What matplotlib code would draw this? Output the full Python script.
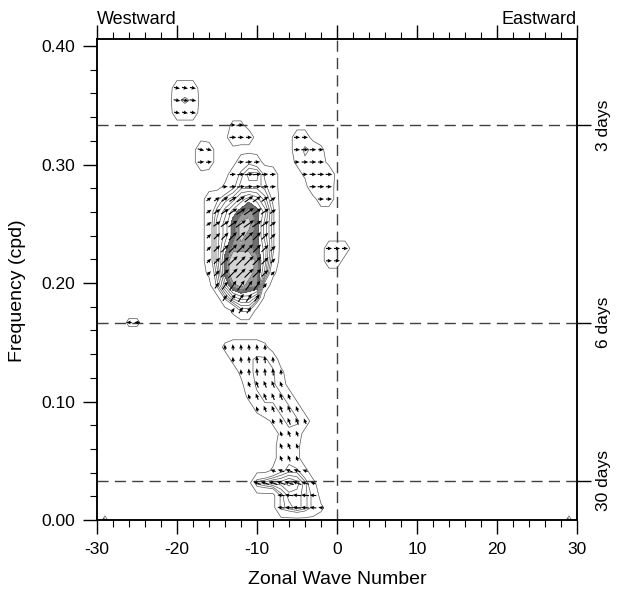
import numpy as np
import matplotlib
matplotlib.use("Agg")
import matplotlib.pyplot as plt

plt.rcParams['font.family'] = ['Liberation Sans', 'DejaVu Sans']
plt.rcParams['axes.unicode_minus'] = False

# grid of the cross spectrum: integer wavenumbers, frequency step 1/96 cpd
wavenumbers = np.arange(-30, 31)
freq_step = 1.0 / 96
n_freq = 39

# coherence, one hex digit per grid point
# value = (digit + 0.5) / 20, '.' = nothing
# (frequency index, first wavenumber, digits)
coh_rows = [
    (35, -20, "222"),
    (34, -20, "343"),
    (33, -20, "222"),
    (32, -13, "11"),
    (31, -13, "322"),
    (31, -5, "22"),
    (30, -17, "32"),
    (30, -5, "2431"),
    (29, -17, "32"),
    (29, -17, ".....232..."),
    (29, -5, "1332"),
    (28, -17, "....246632."),
    (28, -4, "1333"),
    (27, -17, "...1355542."),
    (27, -3, "332"),
    (26, -17, ".235689863."),
    (26, -2, "22"),
    (25, -17, ".2579ABA84."),
    (24, -17, ".268ACCA74."),
    (23, -17, ".268ACBA74."),
    (22, -17, ".269BBBA84."),
    (22, -1, "222"),
    (21, -17, ".26ADDDB83."),
    (21, -1, "22"),
    (20, -17, ".15ADDCB71."),
    (19, -17, "..48BCBB2.."),
    (18, -17, "...47886..."),
    (17, -17, "....144...."),
    (16, -26, "11"),
    (14, -14, "122221"),
    (13, -13, "123442"),
    (12, -12, "134441"),
    (11, -12, "024442"),
    (10, -11, "134442"),
    (9, -10, "133442"),
    (8, -8, "13442"),
    (7, -7, "132"),
    (6, -7, "231"),
    (5, -7, "231"),
    (4, -8, "13441"),
    (3, -10, "56778751"),
    (2, -7, "46653"),
    (1, -7, "456531"),
    (0, -29, "1"),
    (0, 29, "1"),
]

# phase angle (degrees) of the arrows, by boxes: x0, x1, k0, k1, angle
phase_boxes = [
    (-21, -17, 33, 36, -10),
    (-14, -10, 30, 32, 0),
    (-18, -15, 29, 30, -15),
    (-17, -7, 27, 29, 5),
    (-17, -7, 24, 26, 35),
    (-17, -7, 20, 23, 45),
    (-17, -7, 17, 19, 55),
    (-6, 0, 25, 32, 0),
    (-2, 2, 20, 23, 0),
    (-27, -24, 15, 17, 180),
    (-15, -2, 12, 15, 95),
    (-15, -2, 5, 11, 112),
    (-11, -2, 3, 4, 160),
    (-11, -2, 0, 2, 175),
]

period_days = [3, 6, 30]
period_labels = ["3 days", "6 days", "30 days"]

line_levels = [0.05, 0.2, 0.25, 0.3, 0.35, 0.4, 0.45]
fill_levels = [0.5, 0.55, 0.6, 1.0]
fill_colors = ['#6e6e6e', '#999999', '#d4d4d4']

freqs = np.arange(n_freq) * freq_step
coh = np.zeros((n_freq, len(wavenumbers)))
for k, x0, digits in coh_rows:
    for i, c in enumerate(digits):
        if c != '.':
            coh[k, x0 + 30 + i] = (int(c, 16) + 0.5) / 20.0

phase = np.zeros_like(coh)
for x0, x1, k0, k1, ang in phase_boxes:
    phase[k0:k1 + 1, x0 + 30:x1 + 31] = ang

fig = plt.figure(figsize=(6.17, 5.92), dpi=100)
ax = fig.add_axes([97 / 617, 72 / 592, 480 / 617, 481.4 / 592])

ax.contourf(wavenumbers, freqs, coh, levels=fill_levels, colors=fill_colors)
ax.contour(wavenumbers, freqs, coh, levels=line_levels + fill_levels[:-1],
           colors='#575757', linewidths=0.5)

# phase arrows where there is coherence
kk, ii = np.nonzero(coh >= 0.05)
mag = 0.35 + coh[kk, ii]
ang = np.deg2rad(phase[kk, ii])
ax.quiver(wavenumbers[ii], freqs[kk], mag * np.cos(ang), mag * np.sin(ang),
          pivot='middle', units='dots', width=1.1, scale_units='dots',
          scale=0.078, headwidth=3.5, headlength=4, headaxislength=3.6,
          color='black', zorder=4)

for p in period_days:
    ax.axhline(1.0 / p, color='#404040', lw=1.0, dashes=(8, 4.5), zorder=3)
ax.axvline(0, color='#404040', lw=1.0, dashes=(8, 4.5), zorder=3)

ax.set_xlim(-30, 30)
ax.set_ylim(0, n_freq * freq_step)
ax.set_xticks(np.arange(-30, 31, 10))
ax.set_xticks(np.arange(-30, 31, 2), minor=True)
ax.set_yticks([0.0, 0.1, 0.2, 0.3, 0.4])
ax.set_yticklabels(["0.00", "0.10", "0.20", "0.30", "0.40"])
ax.set_yticks(np.arange(0, 0.401, 0.02), minor=True)
ax.tick_params(which='major', direction='out', length=10, width=1.0,
               top=True, right=False, labelsize=12.5, pad=6)
ax.tick_params(which='minor', direction='out', length=5, width=0.8,
               top=True, right=False)
for s in ax.spines.values():
    s.set_linewidth(1.1)

ax2 = ax.twinx()
ax2.set_ylim(ax.get_ylim())
ax2.set_yticks([1.0 / p for p in period_days])
ax2.set_yticklabels(period_labels, rotation=90, va='center')
ax2.tick_params(direction='out', length=10, width=1.0, labelsize=12.5, pad=4)
for s in ax2.spines.values():
    s.set_linewidth(1.1)

fig.text(97 / 617, 1 - 24 / 592, "Westward", ha='left', va='baseline', fontsize=13)
fig.text(577 / 617, 1 - 24 / 592, "Eastward", ha='right', va='baseline', fontsize=13)
fig.text(337 / 617, 1 - 579 / 592, "Zonal Wave Number", ha='center', va='center', fontsize=14)
fig.text(18 / 617, 1 - 291 / 592, "Frequency (cpd)", ha='center', va='center',
         rotation=90, fontsize=14)

fig.savefig("out.png", dpi=100)
